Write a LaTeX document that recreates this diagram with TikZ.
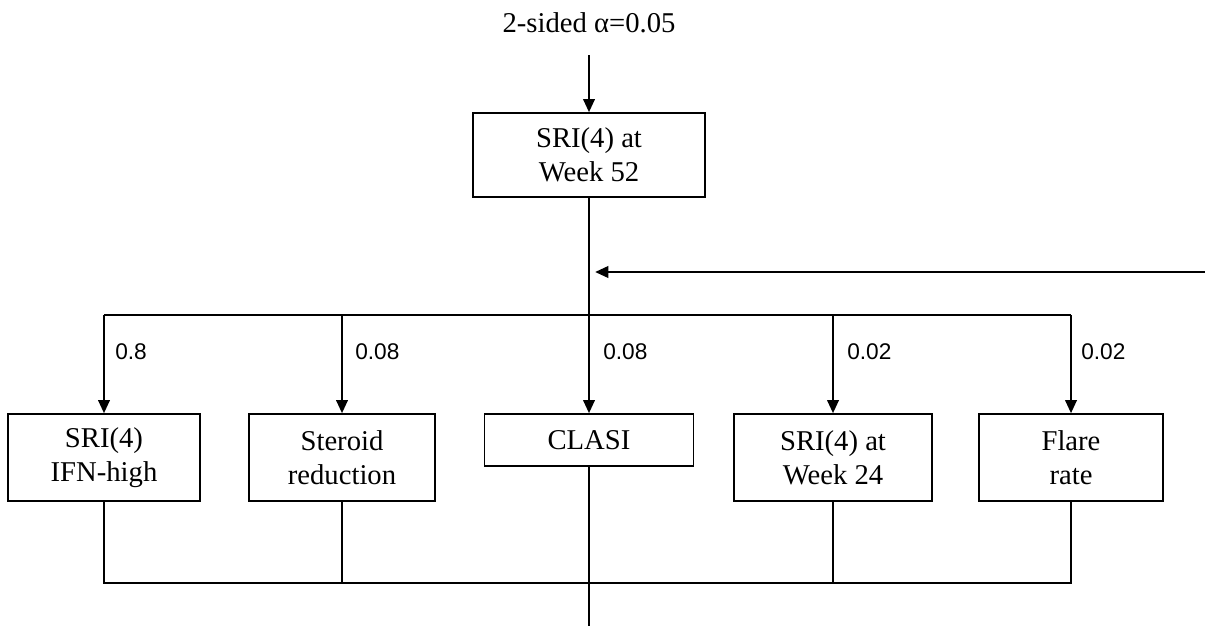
\documentclass[tikz,border=0pt]{standalone}
\usepackage{fontspec}
\setmainfont{Liberation Serif}
\newfontfamily\labelfont{Liberation Sans}
\usetikzlibrary{arrows.meta}
\begin{document}
\begin{tikzpicture}[x=0.75pt,y=-0.75pt,
  box/.style={draw,line width=1pt,inner sep=0pt,align=center,font=\fontsize{21.5}{25.5}\selectfont},
  heavy/.style={line width=2.1pt},
  light/.style={line width=1pt},
  arr/.style={line width=2.1pt,-{Triangle[length=10pt,width=8.5pt]}},
  lbl/.style={font=\labelfont\fontsize{17}{20}\selectfont,anchor=west,inner sep=0pt}]
\useasboundingbox (0,0) rectangle (1205,626);

\node[anchor=base,inner sep=0pt,font=\fontsize{21.5}{25}\selectfont] (title) at (589,32) {2-sided α=0.05};
\node[box,minimum width=174pt,minimum height=63pt] (top) at (589,155) {SRI(4) at\\Week 52};

\node[box,minimum width=144pt,minimum height=65.25pt] (ifn) at (104,457.5) {SRI(4)\\IFN-high};
\node[box,minimum width=139.5pt,minimum height=65.25pt] (ster) at (342,457.5) {Steroid\\reduction};
\node[box,minimum width=156.75pt,minimum height=39pt] (clasi) at (589,440) {CLASI};
\node[box,minimum width=148.5pt,minimum height=65.25pt] (w24) at (833,457.5) {SRI(4) at\\Week 24};
\node[box,minimum width=138pt,minimum height=65.25pt] (flare) at (1071,457.5) {Flare\\rate};

\coordinate (t0) at (589,55);
\coordinate (j) at (589,315);
\coordinate (rin) at (1205,272);
\coordinate (rtip) at (595,272);
\coordinate (b) at (589,583);
\coordinate (bend) at (589,626);

\draw[arr] (t0) -- (top.north);
\draw[heavy] (top.south) -- (j);
\draw[arr] (rin) -- (rtip);

\draw[heavy] (ifn.north |- j) -- (w24.north |- j);
\draw[light] (w24.north |- j) -- (flare.north |- j);

\draw[arr] (ifn.north |- j) -- (ifn.north);
\draw[arr] (ster.north |- j) -- (ster.north);
\draw[arr] (j) -- (clasi.north);
\draw[arr] (w24.north |- j) -- (w24.north);
\draw[arr] (flare.north |- j) -- (flare.north);

\node[lbl] (l1) at (115,352) {0.8};
\node[lbl] (l2) at (355,352) {0.08};
\node[lbl] (l3) at (603,352) {0.08};
\node[lbl] (l4) at (847,352) {0.02};
\node[lbl] (l5) at (1081,352) {0.02};

\draw[light] (ifn.south) -- (ifn.south |- b) -- (flare.south |- b) -- (flare.south);
\draw[light] (ster.south) -- (ster.south |- b);
\draw[light] (w24.south) -- (w24.south |- b);
\draw[heavy] (clasi.south) -- (bend);
\end{tikzpicture}
\end{document}
